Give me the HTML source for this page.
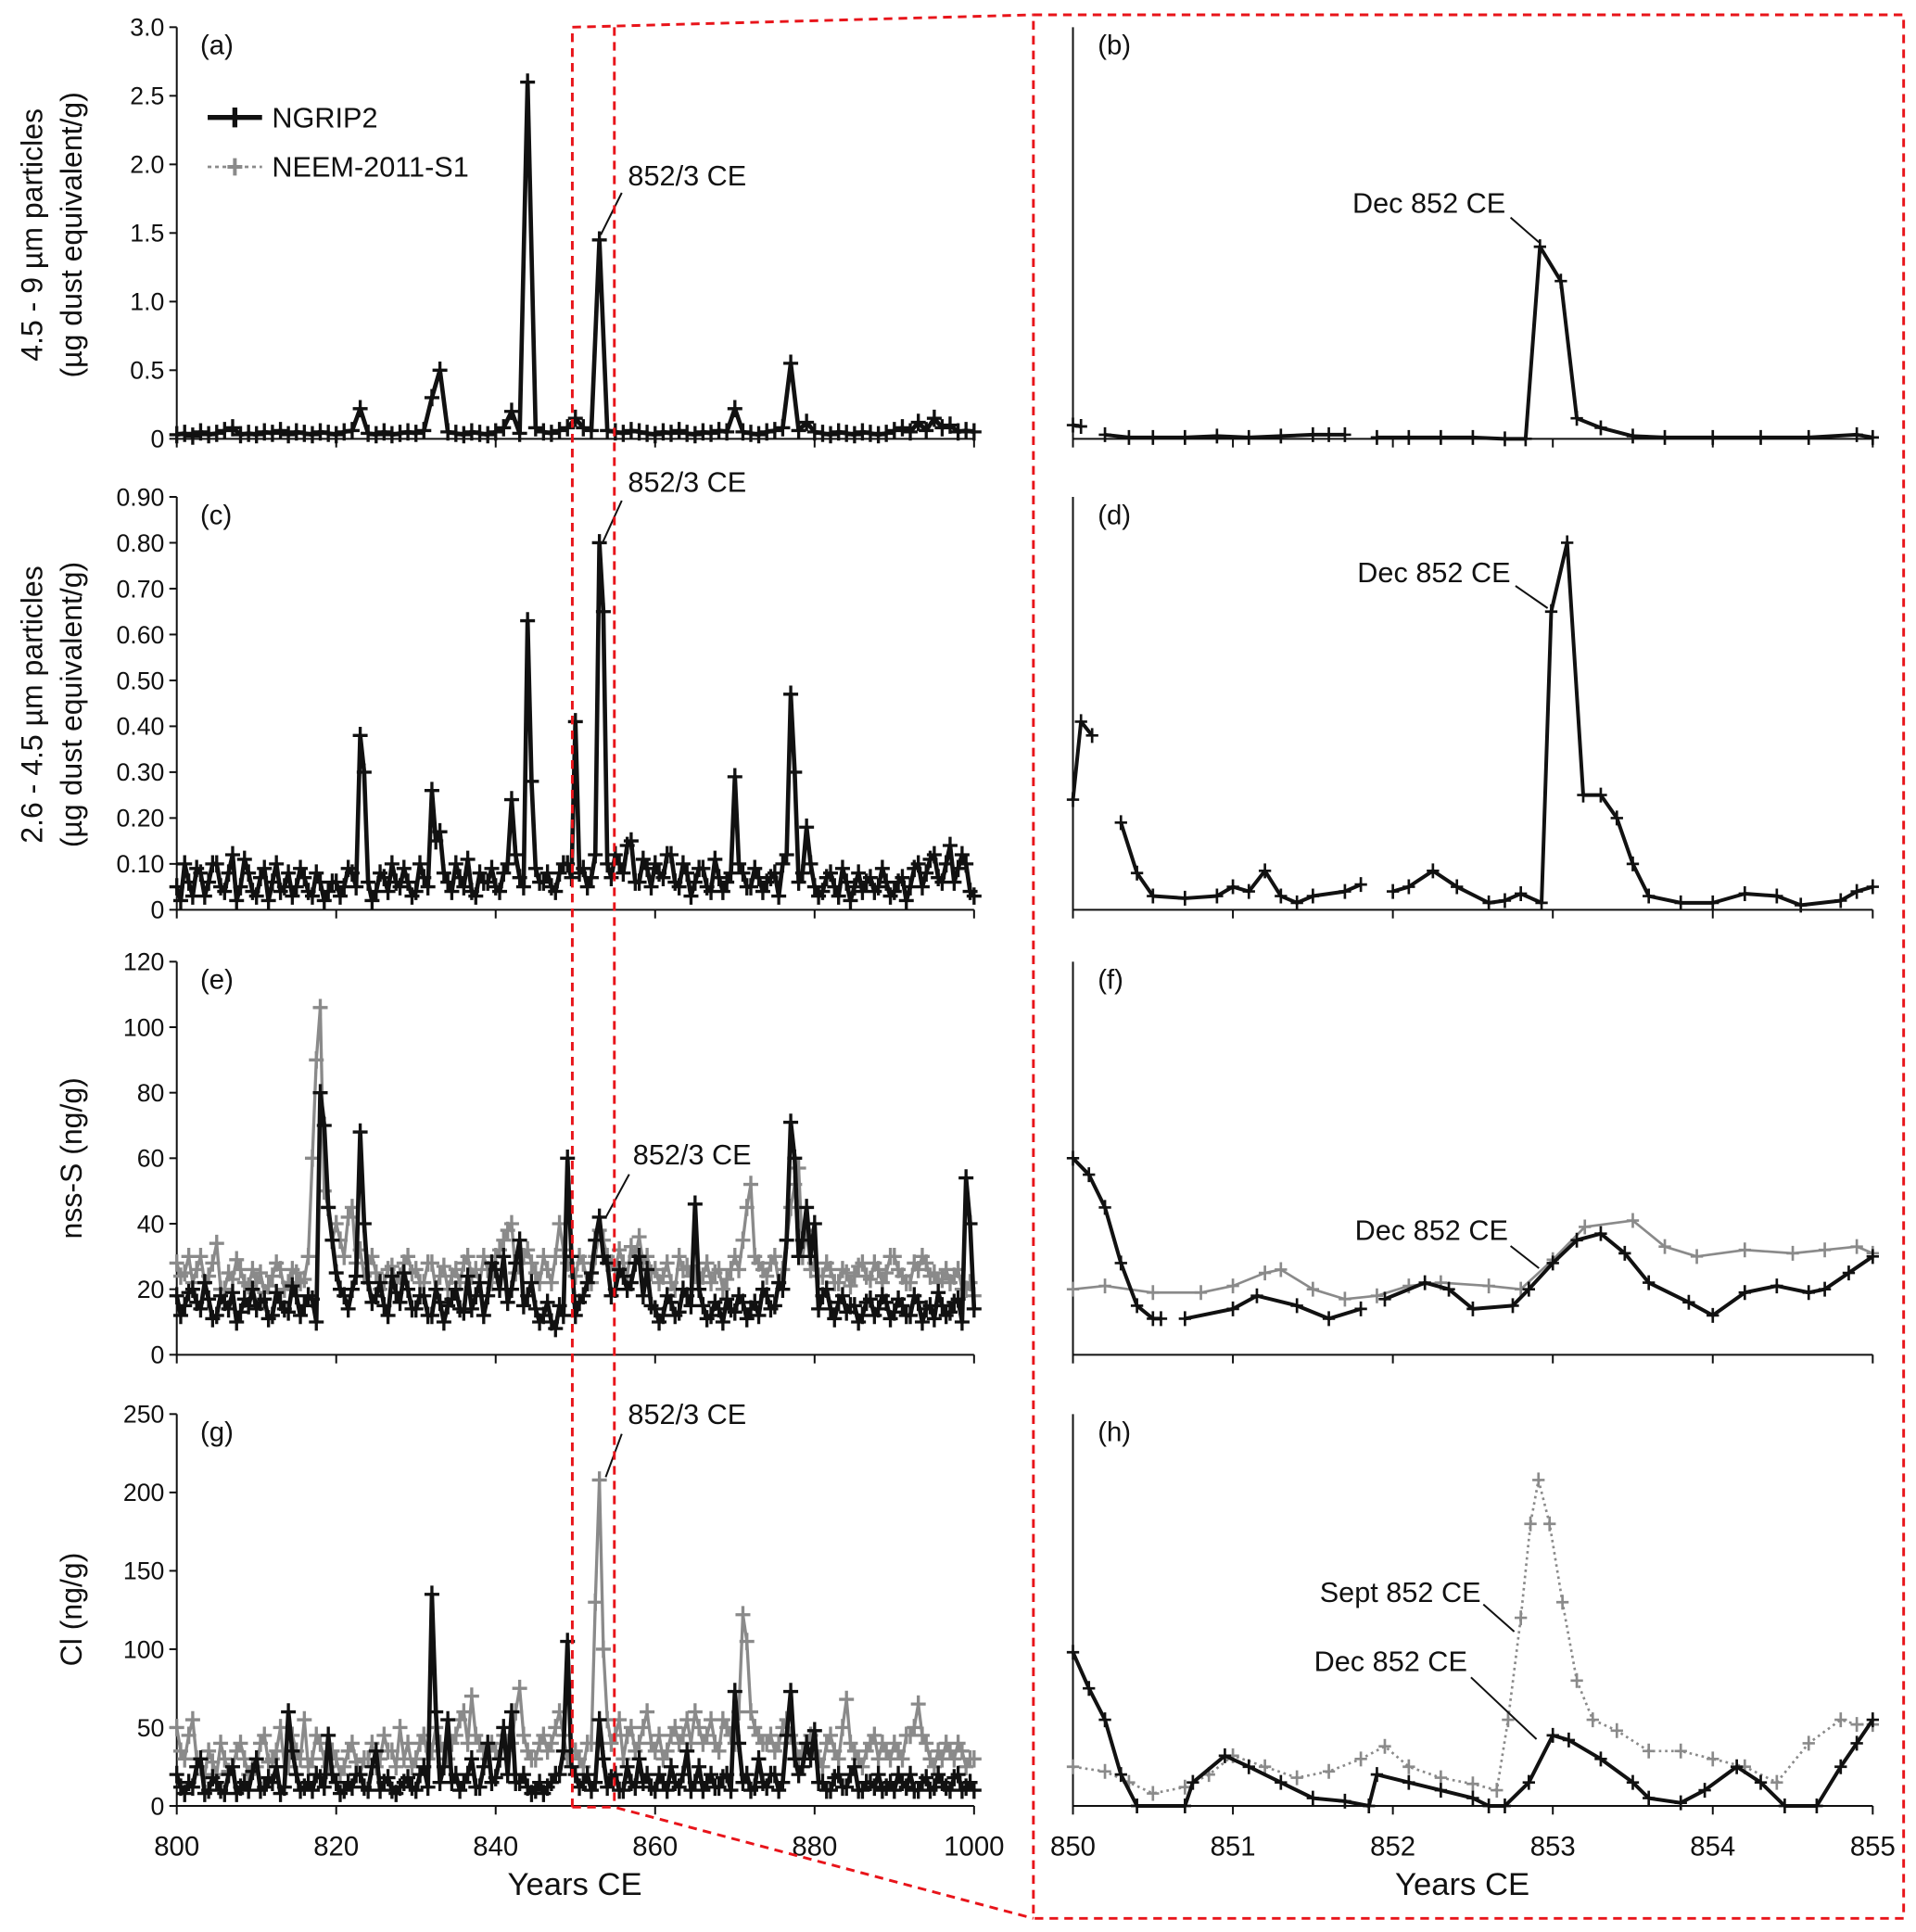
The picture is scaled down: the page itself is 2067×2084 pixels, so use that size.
<!DOCTYPE html>
<html><head><meta charset="utf-8"><style>
html,body{margin:0;padding:0;background:#fff}
svg{display:block}
text{font-family:"Liberation Sans",sans-serif;fill:#111}
</style></head><body>
<svg id="fig" width="2067" height="2084" viewBox="0 0 1550 1563" preserveAspectRatio="none" xmlns="http://www.w3.org/2000/svg">
<g id="root"></g>
</svg>
<script>
// ---------- data: left panels, annual values 800..900 ----------
const leftStartYear = 800;
const aBlack = [.03,.04,.02,.05,.03,.04,.06,.08,.03,.04, .03,.05,.04,.06,.03,.05,.04,.03,.05,.04, .03,.05,.06,.22,.04,.03,.05,.03,.04,.05, .04,.06,.3,.5,.05,.04,.03,.05,.04,.03, .05,.08,.2,.04,2.6,.08,.05,.04,.06,.08, .15,.08,.06,1.45,.06,.05,.04,.06,.05,.04, .03,.05,.04,.06,.04,.03,.05,.04,.06,.05, .22,.05,.04,.03,.05,.06,.08,.55,.06,.12, .05,.04,.03,.05,.04,.03,.05,.04,.03,.04, .06,.08,.05,.12,.06,.15,.08,.1,.05,.06, .05];
const cBlack = [.05,.1,.03,.08,.06,.1,.04,.12,.05,.08, .03,.09,.06,.04,.08,.05,.07,.03,.06,.04, .06,.05,.08,.38,.06,.04,.07,.1,.05,.06, .04,.07,.26,.17,.06,.1,.05,.04,.08,.06, .05,.08,.24,.07,.63,.09,.06,.05,.08,.1, .41,.09,.07,.8,.1,.12,.08,.15,.06,.09, .1,.07,.12,.05,.08,.06,.09,.04,.07,.06, .29,.08,.05,.07,.06,.08,.1,.47,.06,.18, .05,.04,.08,.03,.06,.05,.04,.07,.05,.06, .04,.07,.05,.1,.08,.12,.06,.14,.09,.1, .03];
// mid-year values (800.5 .. 899.5)
const cBlackMid = [.02,.06,.09,.03,.1,.05,.08,.02,.11,.04, .07,.02,.1,.05,.03,.09,.04,.08,.02,.06, .03,.09,.05,.3,.02,.08,.04,.06,.09,.03, .1,.05,.15,.08,.04,.07,.11,.03,.06,.09, .04,.1,.12,.05,.28,.06,.08,.04,.1,.07, .08,.05,.12,.65,.07,.1,.14,.06,.11,.05, .08,.12,.06,.1,.03,.09,.05,.11,.04,.08, .1,.05,.09,.04,.07,.03,.12,.3,.08,.1, .03,.07,.05,.09,.02,.08,.06,.04,.09,.03, .06,.02,.09,.05,.11,.07,.1,.06,.12,.04];
const eBlack = [18,15,20,14,17,12,16,19,13,15, 14,17,12,16,13,18,15,17,80,45, 25,18,20,68,22,18,15,24,16,20, 14,18,12,16,15,20,13,14,22,18, 26,30,20,35,18,14,12,10,15,60, 12,18,25,42,28,20,24,22,30,26, 14,12,16,13,18,46,15,12,14,17, 13,16,14,12,18,15,20,71,30,45, 40,18,14,16,13,15,12,17,14,16, 13,15,12,16,14,11,15,13,17,54, 14];
const eBlackMid = [12,19,16,22,11,18,14,10,17,20, 16,11,19,14,21,12,18,10,70,35, 20,14,24,40,16,22,12,19,25,14, 18,12,20,10,17,14,24,18,12,28, 20,16,28,15,22,10,16,8,12,30, 16,22,35,30,18,26,20,28,18,15, 10,18,12,20,15,20,11,16,10,14, 18,11,16,20,14,22,35,60,35,30, 14,20,11,18,15,10,16,12,18,11, 17,12,18,10,15,19,12,16,10,40];
const eGrey = [28,25,22,30,24,34,20,23,26,21, 22,19,24,26,22,25,23,60,106,45, 40,30,45,32,28,25,22,27,24,30, 26,22,28,24,20,26,28,24,22,26, 30,35,40,28,32,25,30,22,40,28, 24,28,22,38,30,26,28,33,36,30, 26,24,22,30,27,25,24,22,26,23, 30,35,52,28,24,30,26,45,57,38, 28,24,26,22,25,24,28,23,26,25, 30,24,22,26,28,25,23,22,26,20, 18];
const eGreyMid = [24,30,26,22,28,20,25,29,22,26, 25,21,28,20,26,22,30,90,50,35, 35,42,28,24,30,20,26,22,28,25, 22,28,20,27,24,22,30,26,30,22, 32,38,25,30,28,22,26,30,32,26, 30,22,30,35,28,32,24,30,28,25, 22,28,20,26,24,22,28,25,20,26, 26,45,30,26,28,22,35,52,30,26, 24,28,22,26,21,27,24,28,22,30, 26,22,28,30,24,22,26,24,20,22];
const gBlack = [20,8,12,30,10,15,8,25,12,10, 30,12,15,8,60,20,12,10,18,45, 15,10,12,20,10,35,15,10,12,18, 10,25,135,15,55,20,15,30,12,40, 18,50,60,15,12,10,8,15,20,105, 20,15,10,55,12,20,10,15,30,20, 10,15,25,12,35,15,10,20,12,20, 73,15,10,30,12,20,15,73,20,40, 48,15,10,20,12,25,10,15,20,12, 10,15,20,10,18,12,15,10,20,12, 10];
const gBlackMid = [12,15,25,8,18,10,20,8,15,22, 10,18,25,12,35,10,15,20,12,20, 8,15,20,12,25,10,18,8,15,12, 20,12,60,25,15,10,20,12,25,15, 30,20,15,20,8,15,12,20,35,25, 12,20,15,30,18,10,25,12,15,12, 20,10,15,20,10,25,15,12,18,10, 40,20,12,15,20,10,45,30,25,30, 15,10,18,12,20,10,15,12,10,15, 20,12,10,15,10,20,12,18,10,15];
const gGrey = [50,30,55,25,35,20,30,25,40,20, 25,45,30,50,25,35,55,30,40,25, 30,25,40,20,30,25,45,35,50,40, 30,45,35,40,30,45,60,70,40,30, 35,45,40,75,35,30,45,40,60,30, 35,25,40,208,55,45,30,50,40,60, 35,30,45,40,55,60,40,55,35,50, 40,122,60,45,40,35,50,45,30,40, 35,25,45,30,68,35,25,40,30,35, 40,30,45,65,40,25,30,35,40,25, 30];
const gGreyMid = [35,45,30,20,28,40,22,35,30,25, 40,28,35,25,45,30,25,45,30,35, 20,35,28,30,40,30,35,25,30,25, 40,30,50,35,40,55,40,45,35,40, 30,40,60,45,30,40,35,50,45,35, 30,40,130,100,40,55,45,35,50,40, 45,35,50,45,40,50,45,40,55,45, 60,105,50,40,45,40,55,40,35,45, 30,40,35,50,40,30,35,45,40,30, 35,45,50,45,30,35,40,30,35,30];

// ---------- data: right panels (null = gap) ----------
const bYears = [850.0,850.05,null,850.2,850.35,850.5,850.7,850.9,851.1,851.3,851.5,851.6,851.7,null,851.9,852.1,852.3,852.5,852.7,852.83,852.92,853.05,853.15,853.3,853.5,853.7,854.0,854.3,854.6,854.9,855.0];
const bVals  = [0.1,0.09,null,0.03,0.01,0.01,0.01,0.02,0.01,0.02,0.03,0.03,0.03,null,0.01,0.01,0.01,0.01,0,0,1.4,1.15,0.15,0.08,0.02,0.01,0.01,0.01,0.01,0.03,0.01];
const dYears = [850.0,850.05,850.12,null,850.3,850.4,850.5,850.7,850.9,851.0,851.1,851.2,851.3,851.4,851.5,851.7,851.8,null,852.0,852.1,852.25,852.4,852.6,852.7,852.8,852.93,852.99,853.09,853.19,853.3,853.4,853.5,853.6,853.8,854.0,854.2,854.4,854.55,854.8,854.9,855.0];
const dVals  = [0.24,0.41,0.38,null,0.19,0.08,0.03,0.025,0.03,0.05,0.04,0.085,0.03,0.015,0.03,0.04,0.055,null,0.04,0.05,0.085,0.05,0.015,0.02,0.035,0.015,0.65,0.8,0.25,0.25,0.2,0.1,0.03,0.015,0.015,0.035,0.03,0.01,0.02,0.04,0.05];
const fBlackYears = [850.0,850.1,850.2,850.3,850.4,850.5,850.55,null,850.7,851.0,851.15,851.4,851.6,851.8,null,851.95,852.2,852.35,852.5,852.75,852.85,853.0,853.15,853.3,853.45,853.6,853.85,854.0,854.2,854.4,854.6,854.7,854.85,855.0];
const fBlackVals  = [60,55,45,28,15,11,11,null,11,14,18,15,11,14,null,17,22,20,14,15,20,28,35,37,31,22,16,12,19,21,19,20,25,30];
const fGreyYears = [850.0,850.2,850.5,850.8,851.0,851.2,851.3,851.5,851.7,851.9,852.1,852.3,852.6,852.8,853.0,853.2,853.5,853.7,853.9,854.2,854.5,854.7,854.9,855.0];
const fGreyVals  = [20,21,19,19,21,25,26,20,17,18,21,22,21,20,29,39,41,33,30,32,31,32,33,31];
const hBlackYears = [850.0,850.1,850.2,850.3,850.4,850.7,850.75,850.95,851.1,851.3,851.5,851.7,851.85,851.9,852.1,852.3,852.5,852.6,852.7,852.85,853.0,853.1,853.3,853.5,853.6,853.8,853.95,854.15,854.3,854.45,854.65,854.8,854.9,855.0];
const hBlackVals  = [98,75,55,20,0,0,15,32,25,15,5,3,0,20,15,10,5,0,0,15,45,42,30,15,5,2,10,25,15,0,0,25,40,55];
const hGreyYears = [850.0,850.2,850.35,850.5,850.7,850.85,851.0,851.2,851.4,851.6,851.8,851.95,852.1,852.3,852.5,852.65,852.72,852.8,852.86,852.91,852.98,853.06,853.15,853.25,853.4,853.6,853.8,854.0,854.2,854.4,854.6,854.8,854.9,855.0];
const hGreyVals  = [25,22,15,8,12,20,32,25,18,22,30,38,25,18,14,10,55,120,180,208,180,130,80,55,48,35,35,30,25,15,40,55,52,52];

// ---------- tick labels ----------
const leftXTicks = [800,820,840,860,880,900];
const leftXLabels = ["800","820","840","860","880","1000"];
const rightXTicks = [850,851,852,853,854,855];
const aTicks = [0,0.5,1.0,1.5,2.0,2.5,3.0];
const aLabels = ["0","0.5","1.0","1.5","2.0","2.5","3.0"];
const cTicks = [0,0.1,0.2,0.3,0.4,0.5,0.6,0.7,0.8,0.9];
const cLabels = ["0","0.10","0.20","0.30","0.40","0.50","0.60","0.70","0.80","0.90"];
const eTicks = [0,20,40,60,80,100,120];
const gTicks = [0,50,100,150,200,250];

const NS = "http://www.w3.org/2000/svg";
const root = document.getElementById('root');
function el(tag, attrs, parent){ const e=document.createElementNS(NS,tag); for(const k in attrs) e.setAttribute(k,attrs[k]); (parent||root).appendChild(e); return e; }

const LX0=143, LX1=788, RX0=868, RX1=1515;
const lx = y => LX0 + (y-800)/(100)*(LX1-LX0);
const rx = y => RX0 + (y-850)/5*(RX1-RX0);
const rows = [
 {key:'a', bot:355, top:22, max:3.0, ticks:aTicks, labels:aLabels},
 {key:'c', bot:736, top:402, max:0.9, ticks:cTicks, labels:cLabels},
 {key:'e', bot:1096, top:778, max:120, ticks:eTicks, labels:eTicks.map(String)},
 {key:'g', bot:1461, top:1144, max:250, ticks:gTicks, labels:gTicks.map(String)}
];
const ysc = r => v => r.bot - v/r.max*(r.bot-r.top);

function drawSeries(xs, ys, xf, yf, black, name, dotted, big){
  const g = el('g',{});
  
  
  let d='', pen=false;
  for(let i=0;i<xs.length;i++){
    if(xs[i]===null||ys[i]===null){pen=false;continue;}
    const X=xf(xs[i]), Y=yf(ys[i]);
    d += (pen?'L':'M')+X.toFixed(1)+' '+Y.toFixed(1)+' ';
    pen=true;
  }
  const col = black?'#111':'#8a8a8a';
  const line = el('path',{d:d,fill:'none',stroke:col,'stroke-width':black?(big?3.5:3):(big?2.5:2),'stroke-dasharray':dotted?'2 3':'none','stroke-linejoin':'round'},g);
  
  
  let m='';
  const hw = big?6:5, hh = big?7:6;
  for(let i=0;i<xs.length;i++){
    if(xs[i]===null||ys[i]===null) continue;
    const X=xf(xs[i]), Y=yf(ys[i]);
    m += `M${(X-hw).toFixed(1)} ${Y.toFixed(1)}h${2*hw}M${X.toFixed(1)} ${(Y-hh).toFixed(1)}v${2*hh}`;
  }
  const mk = el('path',{d:m,fill:'none',stroke:col,'stroke-width':big?2.5:2},g);
  
  
}

function text(x,y,s,size,anchor,name,extra){
  const t = el('text',Object.assign({x:x,y:y,'font-size':size,'text-anchor':anchor||'start'},extra||{}));
  t.textContent=s;
  
  
  return t;
}

// interleave annual and mid-year values
function merge(annual, mid){
  const xs=[], ys=[];
  for(let i=0;i<annual.length;i++){
    xs.push(leftStartYear+i); ys.push(annual[i]);
    if(mid && i<mid.length){ xs.push(leftStartYear+i+0.5); ys.push(mid[i]); }
  }
  return [xs,ys];
}

const leftData = {a:[merge(aBlack,null),null],c:[merge(cBlack,cBlackMid),null],e:[merge(eBlack,eBlackMid),merge(eGrey,eGreyMid)],g:[merge(gBlack,gBlackMid),merge(gGrey,gGreyMid)]};
const rightData = {
 a:[[bYears,bVals]],
 c:[[dYears,dVals]],
 e:[[fGreyYears,fGreyVals,'grey'],[fBlackYears,fBlackVals,'black']],
 g:[[hGreyYears,hGreyVals,'grey'],[hBlackYears,hBlackVals,'black']]
};
const letters = {a:['(a)','(b)'],c:['(c)','(d)'],e:['(e)','(f)'],g:['(g)','(h)']};

rows.forEach((r,ri)=>{
  const yf = ysc(r);
  const ax = el('path',{d:`M${LX0} ${r.top}V${r.bot}H${LX1}`,fill:'none',stroke:'#111','stroke-width':1.5});
  
  
  r.ticks.forEach((t,i)=>{
    const Y=yf(t);
    el('line',{x1:LX0-6,x2:LX0,y1:Y,y2:Y,stroke:'#111','stroke-width':1.5});
    text(LX0-10,Y+7,r.labels[i],20,'end','y-tick-label-'+r.key);
  });
  leftXTicks.forEach(t=>{ el('line',{x1:lx(t),x2:lx(t),y1:r.bot,y2:r.bot+7,stroke:'#111','stroke-width':1.5}); });
  rightXTicks.forEach(t=>{ el('line',{x1:rx(t),x2:rx(t),y1:r.bot,y2:r.bot+7,stroke:'#111','stroke-width':1.5}); });
  const ax2 = el('path',{d:`M${RX0} ${r.top}V${r.bot}H${RX1}`,fill:'none',stroke:'#111','stroke-width':1.5});
  
  
  const ld = leftData[r.key];
  if(ld[1]) drawSeries(ld[1][0], ld[1][1], lx, yf, false, 'neem-series-'+r.key, false, true);
  drawSeries(ld[0][0], ld[0][1], lx, yf, true, 'ngrip2-series-'+r.key, false, true);
  rightData[r.key].forEach(s=>{
    const black = s[2]!=='grey';
    drawSeries(s[0], s[1], rx, yf, black, (black?'ngrip2':'neem')+'-zoom-series-'+r.key, (!black && r.key==='g'), false);
  });
  text(162,r.top+22,letters[r.key][0],22,'start','panel-label-'+letters[r.key][0][1]);
  text(888,r.top+22,letters[r.key][1],22,'start','panel-label-'+letters[r.key][1][1]);
});

leftXTicks.forEach((t,i)=>text(lx(t),1501,leftXLabels[i],22,'middle','x-tick-label'));
rightXTicks.forEach(t=>text(rx(t),1501,String(t),22,'middle','x-tick-label-right'));
text(465,1533,'Years CE',26,'middle','x-axis-title-left');
text(1183,1533,'Years CE',26,'middle','x-axis-title-right');

function ytitle(x,y,s,name){ text(0,0,s,24,'middle',name,{transform:`translate(${x},${y}) rotate(-90)`}); }
ytitle(34,190,'4.5 - 9 µm particles','y-axis-title-a');
ytitle(66,190,'(µg dust equivalent/g)','y-axis-title-a-unit');
ytitle(34,570,'2.6 - 4.5 µm particles','y-axis-title-c');
ytitle(66,570,'(µg dust equivalent/g)','y-axis-title-c-unit');
ytitle(66,937,'nss-S (ng/g)','y-axis-title-e');
ytitle(66,1302,'Cl (ng/g)','y-axis-title-g');

const lg = el('g',{});


el('path',{d:'M168 95H212M190 87v16',stroke:'#111','stroke-width':4,fill:'none'},lg);
el('path',{d:'M168 135H212',stroke:'#8a8a8a','stroke-width':2,'stroke-dasharray':'3 3',fill:'none'},lg);
el('path',{d:'M184 135h12M190 128v14',stroke:'#8a8a8a','stroke-width':3,fill:'none'},lg);
text(220,103,'NGRIP2',23,'start','legend-entry-ngrip2');
text(220,143,'NEEM-2011-S1',23,'start','legend-entry-neem');

function ann(tx,ty,s,anchor,x1,y1,x2,y2,name){
  text(tx,ty,s,23,anchor,name);
  el('line',{x1:x1,y1:y1,x2:x2,y2:y2,stroke:'#111','stroke-width':1.5});
}
ann(508,150,'852/3 CE','start',503,156,486,190,'annotation-a');
ann(508,398,'852/3 CE','start',503,405,487,440,'annotation-c');
ann(512,942,'852/3 CE','start',509,950,490,985,'annotation-e');
ann(508,1152,'852/3 CE','start',503,1160,490,1195,'annotation-g');
ann(1218,172,'Dec 852 CE','end',1222,176,1245,196,'annotation-b');
ann(1222,471,'Dec 852 CE','end',1226,474,1252,492,'annotation-d');
ann(1220,1003,'Dec 852 CE','end',1222,1008,1245,1026,'annotation-f');
ann(1198,1296,'Sept 852 CE','end',1200,1298,1225,1320,'annotation-h-sept');
ann(1187,1352,'Dec 852 CE','end',1190,1357,1243,1407,'annotation-h-dec');

const rz = el('g',{fill:'none',stroke:'#e8141a','stroke-width':2.2,'stroke-dasharray':'7 5'});


el('path',{d:'M463 1462V22L836 12M497 22V1462'},rz);
el('path',{d:'M463 1462H497L836 1552'},rz);
el('rect',{x:836,y:12,width:704,height:1540},rz);
</script>
</body></html>
